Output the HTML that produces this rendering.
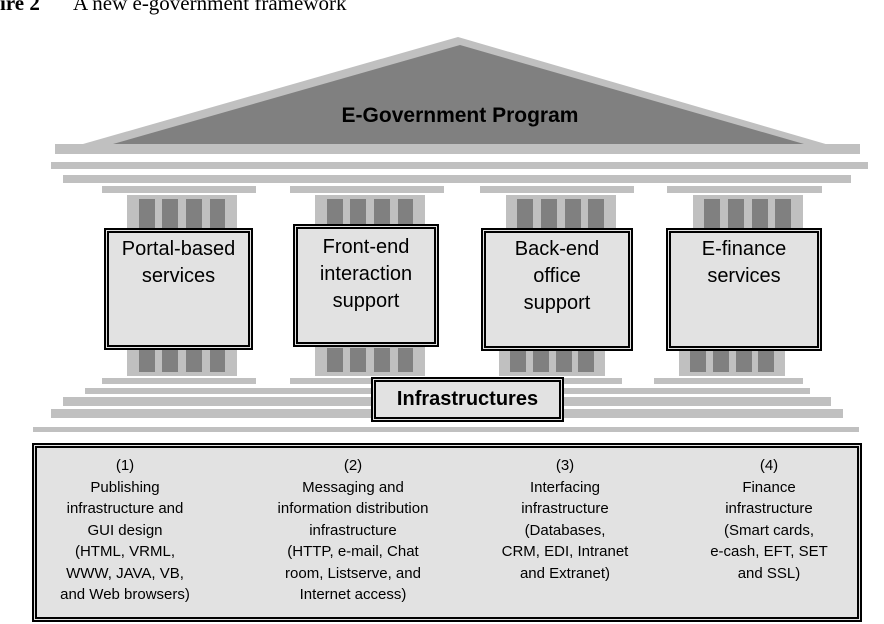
<!DOCTYPE html>
<html><head><style>
body{margin:0;width:884px;height:624px;overflow:hidden;background:#fff;position:relative;font-family:"Liberation Sans",Arial,sans-serif}
.a{position:absolute}
.g{position:absolute;background:#c0c0c0}
.d{position:absolute;background:#808080}
.box{position:absolute;background:#e2e2e2;border:5px double #000;box-sizing:border-box;text-align:center;font-size:20px;line-height:27px;color:#000}
</style></head><body>
<div class="a" style="left:0;top:-9px;font-family:'Liberation Serif',serif;font-size:21px;white-space:nowrap"><b>ire 2</b><span style="position:absolute;left:73px">A new e-government framework</span></div>
<svg class="a" style="left:0;top:0" width="884" height="624">
<polygon points="55,152 458,37 860,154" fill="#c0c0c0"/>
<polygon points="113,144 460,45 804,144" fill="#808080"/>
<rect x="55" y="144" width="805" height="10" fill="#c0c0c0"/>
<text x="460" y="122" text-anchor="middle" font-family="Liberation Sans,Arial,sans-serif" font-weight="bold" font-size="21">E-Government Program</text>
</svg>
<div class="g" style="left:51px;top:162px;width:817px;height:7px"></div>
<div class="g" style="left:63px;top:175px;width:788px;height:8px"></div>
<div class="g" style="left:102px;top:186px;width:154px;height:7px"></div>
<div class="g" style="left:290px;top:186px;width:154px;height:7px"></div>
<div class="g" style="left:480px;top:186px;width:154px;height:7px"></div>
<div class="g" style="left:667px;top:186px;width:155px;height:7px"></div>
<div class="g" style="left:127px;top:195px;width:110px;height:33px"></div>
<div class="g" style="left:315px;top:195px;width:110px;height:33px"></div>
<div class="g" style="left:506px;top:195px;width:110px;height:33px"></div>
<div class="g" style="left:693px;top:195px;width:110px;height:33px"></div>
<div class="d" style="left:139px;top:199px;width:16px;height:29px"></div><div class="d" style="left:162px;top:199px;width:16px;height:29px"></div><div class="d" style="left:186px;top:199px;width:16px;height:29px"></div><div class="d" style="left:210px;top:199px;width:15px;height:29px"></div>
<div class="d" style="left:327px;top:199px;width:16px;height:29px"></div><div class="d" style="left:350px;top:199px;width:16px;height:29px"></div><div class="d" style="left:374px;top:199px;width:16px;height:29px"></div><div class="d" style="left:398px;top:199px;width:15px;height:29px"></div>
<div class="d" style="left:517px;top:199px;width:16px;height:29px"></div><div class="d" style="left:541px;top:199px;width:16px;height:29px"></div><div class="d" style="left:565px;top:199px;width:16px;height:29px"></div><div class="d" style="left:588px;top:199px;width:16px;height:29px"></div>
<div class="d" style="left:704px;top:199px;width:16px;height:29px"></div><div class="d" style="left:728px;top:199px;width:16px;height:29px"></div><div class="d" style="left:752px;top:199px;width:16px;height:29px"></div><div class="d" style="left:775px;top:199px;width:16px;height:29px"></div>
<div class="g" style="left:127px;top:350px;width:110px;height:26px"></div>
<div class="g" style="left:315px;top:346px;width:110px;height:30px"></div>
<div class="g" style="left:499px;top:350px;width:106px;height:26px"></div>
<div class="g" style="left:679px;top:350px;width:106px;height:26px"></div>
<div class="d" style="left:139px;top:350px;width:16px;height:22px"></div><div class="d" style="left:162px;top:350px;width:16px;height:22px"></div><div class="d" style="left:186px;top:350px;width:16px;height:22px"></div><div class="d" style="left:210px;top:350px;width:15px;height:22px"></div>
<div class="d" style="left:327px;top:348px;width:16px;height:24px"></div><div class="d" style="left:350px;top:348px;width:16px;height:24px"></div><div class="d" style="left:374px;top:348px;width:16px;height:24px"></div><div class="d" style="left:398px;top:348px;width:15px;height:24px"></div>
<div class="d" style="left:510px;top:350px;width:16px;height:22px"></div><div class="d" style="left:533px;top:350px;width:16px;height:22px"></div><div class="d" style="left:556px;top:350px;width:16px;height:22px"></div><div class="d" style="left:578px;top:350px;width:16px;height:22px"></div>
<div class="d" style="left:690px;top:350px;width:16px;height:22px"></div><div class="d" style="left:713px;top:350px;width:16px;height:22px"></div><div class="d" style="left:736px;top:350px;width:16px;height:22px"></div><div class="d" style="left:758px;top:350px;width:16px;height:22px"></div>
<div class="g" style="left:102px;top:378px;width:154px;height:6px"></div>
<div class="g" style="left:290px;top:378px;width:332px;height:6px"></div>
<div class="g" style="left:654px;top:378px;width:149px;height:6px"></div>
<div class="g" style="left:85px;top:388px;width:725px;height:6px"></div>
<div class="g" style="left:63px;top:397px;width:768px;height:9px"></div>
<div class="g" style="left:51px;top:409px;width:792px;height:9px"></div>
<div class="g" style="left:33px;top:427px;width:826px;height:5px"></div>
<div class="box" style="left:104px;top:228px;width:149px;height:122px;padding-top:3px">Portal-based<br>services</div>
<div class="box" style="left:293px;top:224px;width:146px;height:123px;padding-top:5px">Front-end<br>interaction<br>support</div>
<div class="box" style="left:481px;top:228px;width:152px;height:123px;padding-top:3px">Back-end<br>office<br>support</div>
<div class="box" style="left:666px;top:228px;width:156px;height:123px;padding-top:3px">E-finance<br>services</div>
<div class="box" style="left:371px;top:377px;width:193px;height:45px;font-weight:bold;line-height:35px">Infrastructures</div>
<div class="box" style="left:32px;top:443px;width:830px;height:179px;font-size:15px;line-height:21.5px;padding-top:7px">
<div class="a" style="left:0;width:176px;top:7px">(1)<br>Publishing<br>infrastructure and<br>GUI design<br>(HTML, VRML,<br>WWW, JAVA, VB,<br>and Web browsers)</div>
<div class="a" style="left:216px;width:200px;top:7px">(2)<br>Messaging and<br>information distribution<br>infrastructure<br>(HTTP, e-mail, Chat<br>room, Listserve, and<br>Internet access)</div>
<div class="a" style="left:440px;width:176px;top:7px">(3)<br>Interfacing<br>infrastructure<br>(Databases,<br>CRM, EDI, Intranet<br>and Extranet)</div>
<div class="a" style="left:644px;width:176px;top:7px">(4)<br>Finance<br>infrastructure<br>(Smart cards,<br>e-cash, EFT, SET<br>and SSL)</div>
</div>
</body></html>
